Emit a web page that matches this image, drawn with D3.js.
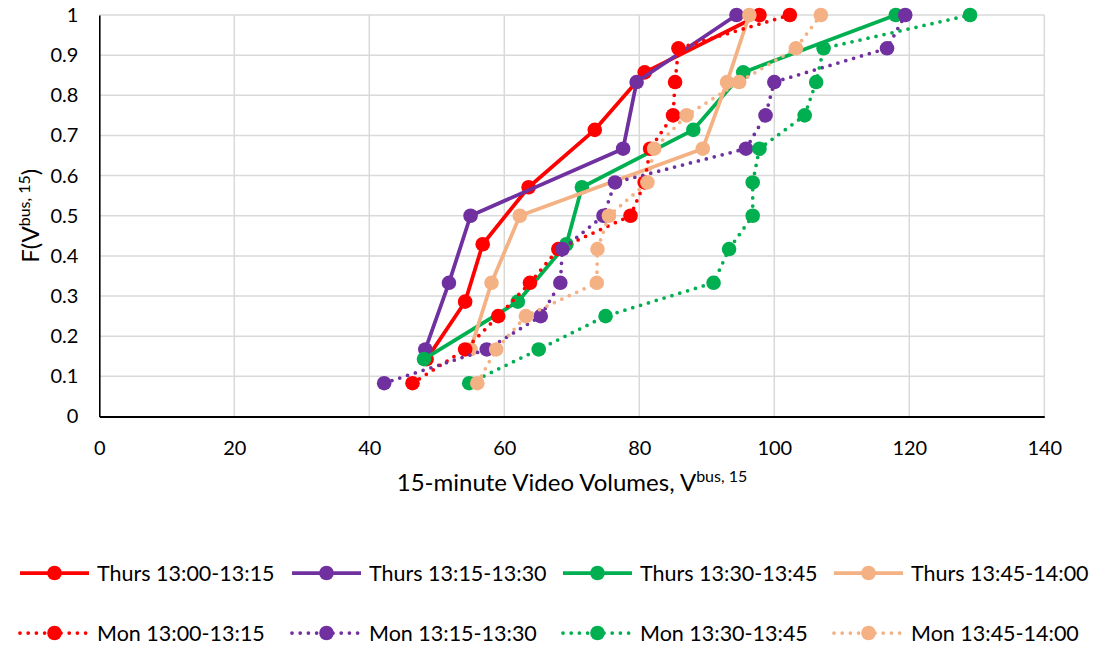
<!DOCTYPE html>
<html>
<head>
<meta charset="utf-8">
<script src="https://cdn.jsdelivr.net/npm/d3@7/dist/d3.min.js"></script>
<style>
  body { margin: 0; background: #ffffff; }
  svg { display: block; font-family: Lato, "Open Sans", sans-serif; }
</style>
</head>
<body>
<svg id="chart" width="1094" height="649"></svg>
<script>
// Axis ticks
const xTicks = [0, 20, 40, 60, 80, 100, 120, 140];
const yTicks = [0, 0.1, 0.2, 0.3, 0.4, 0.5, 0.6, 0.7, 0.8, 0.9, 1];
const yTickLabels = ["0", "0.1", "0.2", "0.3", "0.4", "0.5", "0.6", "0.7", "0.8", "0.9", "1"];

// Cumulative probability steps
const fSeven = [0.143, 0.286, 0.429, 0.571, 0.714, 0.857, 1];
const fSix = [0.167, 0.333, 0.5, 0.667, 0.833, 1];
const fTwelve = [0.083, 0.167, 0.25, 0.333, 0.417, 0.5, 0.583, 0.667, 0.75, 0.833, 0.917, 1];

// 15-minute bus volumes per interval (sorted)
const thu1300 = [48.5, 54.2, 56.8, 63.6, 73.4, 80.8, 97.8];
const thu1315 = [48.3, 51.8, 55.0, 77.6, 79.6, 94.4];
const thu1330 = [48.1, 62.0, 69.2, 71.5, 88.0, 95.4, 118.0];
const thu1345 = [55.0, 58.1, 62.3, 89.4, 93.0, 96.3];
const mon1300 = [46.4, 54.2, 59.1, 63.8, 68.0, 78.7, 80.8, 81.6, 85.0, 85.3, 85.8, 102.3];
const mon1315 = [42.2, 57.4, 65.4, 68.3, 68.6, 74.7, 76.4, 95.8, 98.7, 100.0, 116.7, 119.4];
const mon1330 = [54.8, 65.1, 75.0, 91.0, 93.3, 96.8, 96.8, 97.8, 104.5, 106.2, 107.3, 129.0];
const mon1345 = [56.0, 58.8, 63.2, 73.7, 73.8, 75.5, 81.2, 82.2, 87.0, 94.8, 103.2, 106.9];

const seriesNames = [
  "Thurs 13:00-13:15", "Thurs 13:15-13:30", "Thurs 13:30-13:45", "Thurs 13:45-14:00",
  "Mon 13:00-13:15", "Mon 13:15-13:30", "Mon 13:30-13:45", "Mon 13:45-14:00"
];
const seriesColors = ["#ff0000", "#7030a0", "#00b050", "#f4b183",
                      "#ff0000", "#7030a0", "#00b050", "#f4b183"];
const seriesDotted = [false, false, false, false, true, true, true, true];
const seriesX = [thu1300, thu1315, thu1330, thu1345, mon1300, mon1315, mon1330, mon1345];
const seriesF = [fSeven, fSix, fSeven, fSix, fTwelve, fTwelve, fTwelve, fTwelve];

const series = seriesNames.map((name, i) => ({
  name,
  color: seriesColors[i],
  dotted: seriesDotted[i],
  points: seriesX[i].map((v, j) => ({ x: v, y: seriesF[i][j] }))
}));

const svg = d3.select("#chart");
const plot = { left: 99.3, right: 1044.3, top: 15, bottom: 416.5 };

const x = d3.scaleLinear().domain([0, 140]).range([plot.left, plot.right]);
const y = d3.scaleLinear().domain([0, 1]).range([plot.bottom, plot.top]);

const gridColor = "#d9d9d9";
const lineW = 3.75;
const markerR = 7.3;

// Gridlines
const grid = svg.append("g");
grid.selectAll("line.h").data(yTicks.filter(d => d > 0)).join("line")
  .attr("x1", plot.left).attr("x2", plot.right)
  .attr("y1", d => y(d)).attr("y2", d => y(d))
  .attr("stroke", gridColor).attr("stroke-width", 1.5);
grid.selectAll("line.v").data(xTicks.filter(d => d > 0)).join("line")
  .attr("y1", plot.top).attr("y2", plot.bottom)
  .attr("x1", d => x(d)).attr("x2", d => x(d))
  .attr("stroke", gridColor).attr("stroke-width", 1.5);

// Axes
const xAxis = svg.append("g")
  .attr("transform", `translate(0,${plot.bottom})`)
  .call(d3.axisBottom(x).tickValues(xTicks).tickSize(0).tickPadding(24).tickFormat(d3.format("d")));
xAxis.select(".domain").attr("stroke", "#000").attr("stroke-width", 2.2);
xAxis.selectAll("text").attr("font-size", 20).attr("fill", "#000").attr("font-family", "Lato");

const yAxis = svg.append("g")
  .attr("transform", `translate(${plot.left},0)`)
  .call(d3.axisLeft(y).tickValues(yTicks).tickSize(0).tickPadding(21)
    .tickFormat((d, i) => yTickLabels[i]));
yAxis.select(".domain").attr("stroke", "#000").attr("stroke-width", 1.6);
yAxis.selectAll("text").attr("font-size", 20).attr("fill", "#000").attr("font-family", "Lato");
// keep the bottom axis on top of the left one
xAxis.raise();

// Axis titles
const xTitle = svg.append("text")
  .attr("x", 572).attr("y", 491)
  .attr("text-anchor", "middle")
  .attr("font-size", 24).attr("fill", "#000");
xTitle.append("tspan").text("15-minute Video Volumes, V");
xTitle.append("tspan").attr("font-size", 16).attr("dy", -9.5).text("bus, 15");

const yTitle = svg.append("text")
  .attr("transform", `translate(39,${(plot.top + plot.bottom) / 2}) rotate(-90)`)
  .attr("text-anchor", "middle")
  .attr("font-size", 24).attr("fill", "#000");
yTitle.append("tspan").text("F(V");
yTitle.append("tspan").attr("font-size", 16).attr("dy", -9.5).text("bus, 15");
yTitle.append("tspan").attr("dy", 9.5).text(")");

// Series
const lineGen = d3.line().x(d => x(d.x)).y(d => y(d.y));
const layer = svg.append("g");
series.forEach(s => {
  const g = layer.append("g");
  g.append("path")
    .datum(s.points)
    .attr("d", lineGen)
    .attr("fill", "none")
    .attr("stroke", s.color)
    .attr("stroke-width", lineW)
    .attr("stroke-linejoin", "round")
    .attr("stroke-linecap", s.dotted ? "round" : "butt")
    .attr("stroke-dasharray", s.dotted ? "0 8.2" : null);
  g.selectAll("circle").data(s.points).join("circle")
    .attr("cx", d => x(d.x)).attr("cy", d => y(d.y))
    .attr("r", markerR)
    .attr("fill", s.color);
});

// Legend
const colX = [20, 292, 563, 834];
const rowY = [573, 633];
const legend = svg.append("g");
series.forEach((s, i) => {
  const lx = colX[i % 4];
  const ly = rowY[Math.floor(i / 4)];
  const g = legend.append("g").attr("transform", `translate(${lx},${ly})`);
  g.append("line")
    .attr("x1", 0).attr("x2", 69).attr("y1", 0).attr("y2", 0)
    .attr("stroke", s.color).attr("stroke-width", lineW)
    .attr("stroke-linecap", s.dotted ? "round" : "butt")
    .attr("stroke-dasharray", s.dotted ? "0 8.2" : null);
  g.append("circle").attr("cx", 34.5).attr("cy", 0).attr("r", markerR).attr("fill", s.color);
  g.append("text")
    .attr("x", 77).attr("y", 0).attr("dy", "0.35em")
    .attr("font-size", 21.5).attr("fill", "#000")
    .text(s.name);
});
</script>
</body>
</html>
